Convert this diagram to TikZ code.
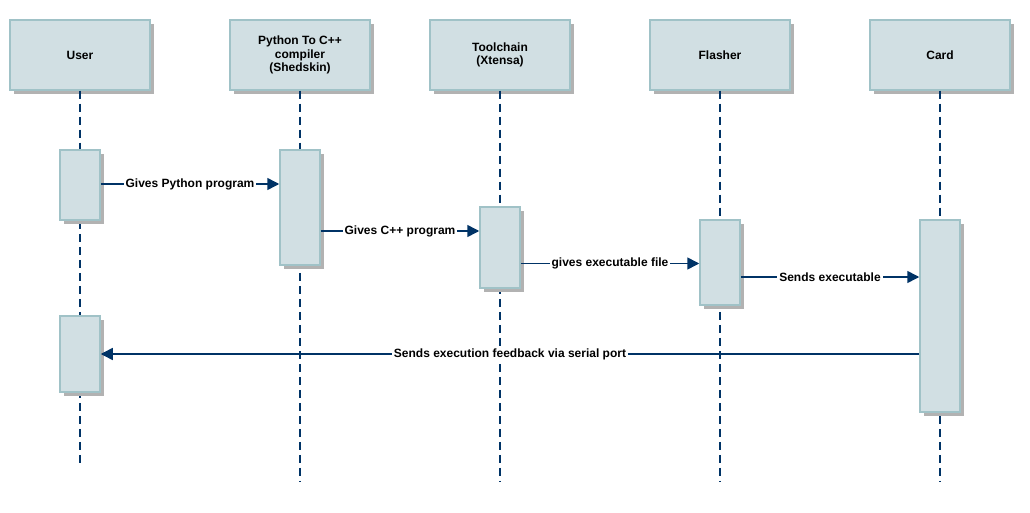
\documentclass[tikz,border=0pt]{standalone}
\usepackage{fontspec}
\setmainfont{Liberation Sans}
\usetikzlibrary{arrows.meta,shadows}
\definecolor{boxfill}{RGB}{209,223,227}
\definecolor{boxline}{RGB}{160,194,199}
\definecolor{shade}{RGB}{178,178,178}
\definecolor{navy}{RGB}{0,51,102}
\begin{document}
\begin{tikzpicture}[x=1pt,y=-1pt,
  shadowed/.style={fill=boxfill,draw=boxline,line width=1.5pt,
    drop shadow={shadow xshift=4pt,shadow yshift=-4pt,fill=shade,opacity=1}},
  head/.style={shadowed,minimum width=140pt,minimum height=70pt,inner sep=0pt,
    align=center,font=\bfseries\fontsize{12}{13.5}\selectfont},
  act/.style={shadowed,minimum width=40pt,inner sep=0pt},
  life/.style={draw=navy,line width=1.5pt,dash pattern=on 8pt off 5pt},
  msg/.style={draw=navy,line width=1.5pt,-{Triangle[length=12pt,width=12pt]}},
  lbl/.style={fill=white,inner sep=2pt,font=\bfseries\fontsize{12}{14}\selectfont}]
\useasboundingbox (0,0) rectangle (1030,513);

% participants
\node[head] (uh) at (80,55) {User};
\node[head] (ph) at (300,55) {Python To C++\\compiler\\(Shedskin)};
\node[head] (th) at (500,55) {Toolchain\\(Xtensa)};
\node[head] (fh) at (720,55) {Flasher};
\node[head] (ch) at (940,55) {Card};

% lifeline ends
\coordinate (ue) at (80,466);
\coordinate (pe) at (300,482);
\coordinate (te) at (500,482);
\coordinate (fe) at (720,482);
\coordinate (ce) at (940,482);
\draw[life] (uh.south) -- (ue);
\draw[life] (ph.south) -- (pe);
\draw[life] (th.south) -- (te);
\draw[life] (fh.south) -- (fe);
\draw[life] (ch.south) -- (ce);

% activations
\node[act,minimum height=70pt] (u1) at (80,185) {};
\node[act,minimum height=115pt] (p1) at (300,207.5) {};
\node[act,minimum height=81pt] (t1) at (500,247.5) {};
\node[act,minimum height=85pt] (f1) at (720,262.5) {};
\node[act,minimum height=192pt] (c1) at (940,316) {};
\node[act,minimum height=76pt] (u2) at (80,354) {};

% message levels
\coordinate (m1) at (0,184);
\coordinate (m2) at (0,231);
\coordinate (m3) at (0,263.5);
\coordinate (m4) at (0,277);
\coordinate (m5) at (0,354);

\draw[msg] (m1 -| u1.east) -- node[lbl] {Gives Python program} (m1 -| p1.west);
\draw[msg] (m2 -| p1.east) -- node[lbl] {Gives C++ program} (m2 -| t1.west);
\draw[msg] (m3 -| t1.east) -- node[lbl] {gives executable file} (m3 -| f1.west);
\draw[msg] (m4 -| f1.east) -- node[lbl] {Sends executable} (m4 -| c1.west);
\draw[msg] (m5 -| c1.west) -- node[lbl] {Sends execution feedback via serial port} (m5 -| u2.east);
\end{tikzpicture}
\end{document}
